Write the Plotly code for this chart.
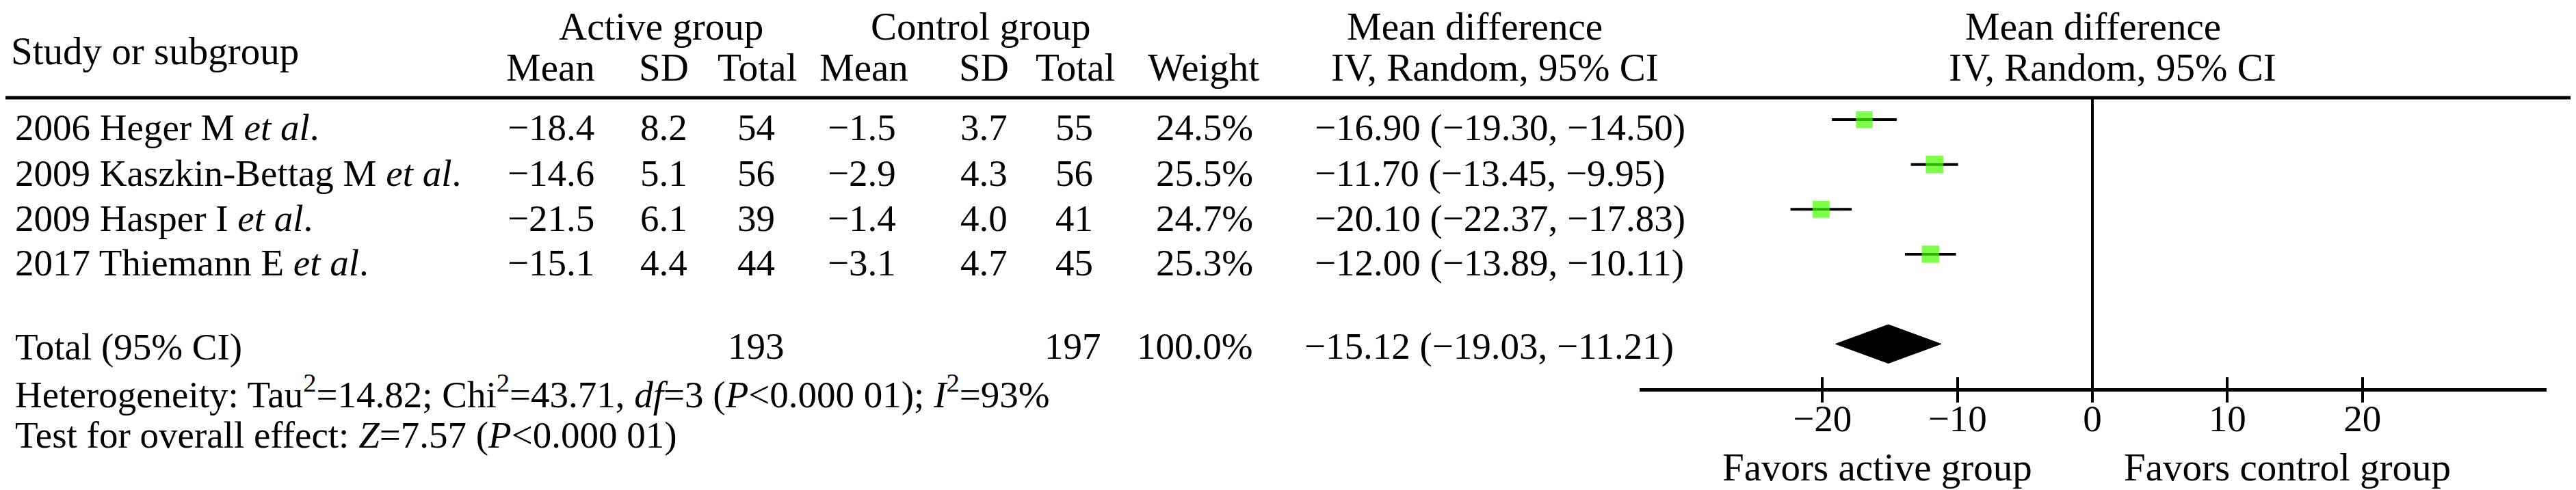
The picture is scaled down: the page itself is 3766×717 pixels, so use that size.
import plotly.graph_objects as go

# ── data ─────────────────────────────────────────────────────────────

studies = ["2006 Heger M", "2009 Kaszkin-Bettag M", "2009 Hasper I", "2017 Thiemann E"]
act_mean = [-18.4, -14.6, -21.5, -15.1]
act_sd = [8.2, 5.1, 6.1, 4.4]
act_n = [54, 56, 39, 44]
ctl_mean = [-1.5, -2.9, -1.4, -3.1]
ctl_sd = [3.7, 4.3, 4.0, 4.7]
ctl_n = [55, 56, 41, 45]
weights = [24.5, 25.5, 24.7, 25.3]
md = [-16.90, -11.70, -20.10, -12.00]
ci_lo = [-19.30, -13.45, -22.37, -13.89]
ci_hi = [-14.50, -9.95, -17.83, -10.11]

total_act_n = 193
total_ctl_n = 197
total_weight = 100.0
total_md = -15.12
total_lo = -19.03
total_hi = -11.21

tick_vals = [-20, -10, 0, 10, 20]

heterogeneity = ("Heterogeneity: Tau<sup>2</sup>=14.82; Chi<sup>2</sup>=43.71, "
                 "<i>df</i>=3 (<i>P</i>&lt;0.000 01); <i>I</i><sup>2</sup>=93%")
overall = "Test for overall effect: <i>Z</i>=7.57 (<i>P</i>&lt;0.000 01)"

# ── layout helpers ───────────────────────────────────────────────────

W, H = 3766, 717
FONT = "Liberation Serif, Times New Roman, serif"
BODY = 55
HEAD = 57


def px(x):
    return x / W


def py(y):
    return 1 - y / H


def fmt(v, d=1):
    return f"{v:.{d}f}".replace("-", "\u2212")


annotations = []


def text(s, x, y, size=BODY, anchor="center"):
    annotations.append(dict(
        text=s, x=px(x), y=py(y), xref="paper", yref="paper",
        xanchor=anchor, yanchor="middle", showarrow=False,
        font=dict(family=FONT, size=size, color="black"),
    ))


# header
text("Study or subgroup", 6, 67, HEAD, "left")
text("Active group", 958, 30, HEAD)
text("Control group", 1425, 30, HEAD)
text("Mean difference", 2148, 30, HEAD)
text("Mean difference", 3052, 30, HEAD)
for label, x in [("Mean", 797), ("SD", 962), ("Total", 1099),
                 ("Mean", 1255), ("SD", 1430), ("Total", 1564), ("Weight", 1751)]:
    text(label, x, 90, HEAD)
text("IV, Random, 95% CI", 2177, 90, HEAD)
text("IV, Random, 95% CI", 3080, 90, HEAD)

# study rows
row_y = [178, 245, 311, 376]
for i, name in enumerate(studies):
    y = row_y[i]
    text(f"{name} <i>et al</i>.", 12, y, BODY, "left")
    text(fmt(act_mean[i]), 797, y)
    text(fmt(act_sd[i]), 962, y)
    text(str(act_n[i]), 1097, y)
    text(fmt(ctl_mean[i]), 1252, y)
    text(fmt(ctl_sd[i]), 1430, y)
    text(str(ctl_n[i]), 1562, y)
    text(f"{weights[i]:.1f}%", 1826, y, BODY, "right")
    text(f"{fmt(md[i], 2)} ({fmt(ci_lo[i], 2)}, {fmt(ci_hi[i], 2)})", 1912, y, BODY, "left")

# total row
text("Total (95% CI)", 12, 499, BODY, "left")
text(str(total_act_n), 1097, 498)
text(str(total_ctl_n), 1560, 498)
text(f"{total_weight:.1f}%", 1826, 498, BODY, "right")
text(f"{fmt(total_md, 2)} ({fmt(total_lo, 2)}, {fmt(total_hi, 2)})", 1897, 498, BODY, "left")
text(heterogeneity, 12, 565, BODY, "left")
text(overall, 12, 628, BODY, "left")

# favours labels
text("Favors active group", 2736, 675, HEAD)
text("Favors control group", 3336, 675, HEAD)

# ── chart ────────────────────────────────────────────────────────────

rows = list(range(len(studies)))
total_row = len(studies) + 1
half_h = 0.43

ci_x, ci_y = [], []
for i in rows:
    ci_x += [ci_lo[i], ci_hi[i], None]
    ci_y += [i, i, None]

fig = go.Figure()
fig.add_trace(go.Scatter(
    x=ci_x, y=ci_y, mode="lines",
    line=dict(color="black", width=4), hoverinfo="skip",
))
fig.add_trace(go.Scatter(
    x=md, y=rows, mode="markers",
    marker=dict(symbol="square", size=weights, color="#47ff00", line=dict(width=0)),
))
fig.add_trace(go.Scatter(
    x=[total_lo, total_md, total_hi, total_md, total_lo],
    y=[total_row, total_row - half_h, total_row, total_row + half_h, total_row],
    mode="lines", fill="toself", fillcolor="black",
    line=dict(color="black", width=1),
))
# invisible trace so the mirrored tick axis is drawn
fig.add_trace(go.Scatter(
    x=[0], y=[0], xaxis="x2", yaxis="y", mode="markers",
    marker=dict(opacity=0), hoverinfo="skip",
))

x_range = [-33.55, 33.65]
x_domain = [px(2389), px(3715)]

fig.update_layout(
    width=W,
    height=H,
    margin=dict(l=0, r=0, t=0, b=0),
    paper_bgcolor="white",
    plot_bgcolor="white",
    showlegend=False,
    annotations=annotations,
    xaxis=dict(
        domain=x_domain, range=x_range, anchor="y",
        showgrid=False, showline=True, linecolor="black", linewidth=5,
        zeroline=True, zerolinecolor="black", zerolinewidth=4,
        ticks="outside", ticklen=16, tickwidth=4, tickcolor="black",
        tickvals=tick_vals, ticktext=[fmt(v, 0) for v in tick_vals],
        tickfont=dict(family=FONT, size=55, color="black"),
        ticklabelstandoff=-24,
    ),
    xaxis2=dict(
        domain=x_domain, range=x_range, overlaying="x", anchor="y", side="bottom",
        showgrid=False, showline=False, zeroline=False,
        ticks="inside", ticklen=16, tickwidth=4, tickcolor="black",
        tickvals=tick_vals, showticklabels=False,
    ),
    yaxis=dict(
        domain=[py(560), py(135)], range=[5.985, -0.487],
        visible=False, showgrid=False, zeroline=False,
    ),
    shapes=[dict(
        type="line", xref="paper", yref="paper",
        x0=0, x1=1, y0=py(135), y1=py(135),
        line=dict(color="black", width=5),
    )],
)

fig.write_html("out.html")
